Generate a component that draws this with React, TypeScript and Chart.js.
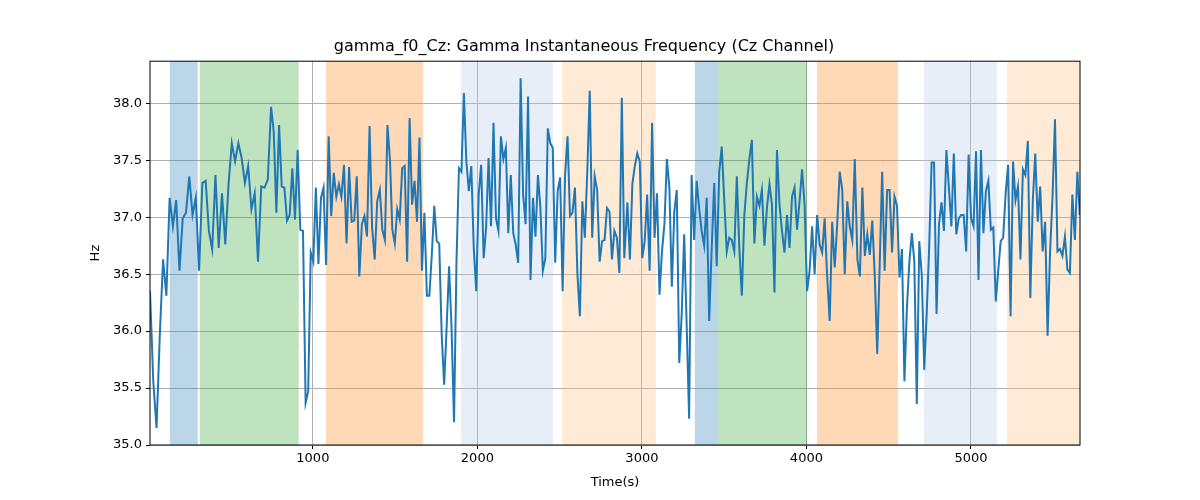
import React, { useEffect, useRef } from 'react';
import { Chart, registerables } from 'chart.js';

Chart.register(...registerables);

const anchorIdx = [0, 37, 50, 83, 84, 109, 136, 178, 179, 204, 270, 271, 295, 351, 361];
const anchorTime = [10, 746, 956, 1469, 1483, 1858, 2263, 2893, 2912, 3287, 4294, 4310, 4671, 5511, 5662];

const hzValues = [
  36.35, 35.56, 35.15, 35.97, 36.63, 36.31, 37.17, 36.92, 37.15, 36.53, 36.99, 37.04, 37.36, 37.02, 37.17, 36.53,
  37.3, 37.32, 36.88, 36.72, 37.37, 36.73, 37.21, 36.76, 37.29, 37.65, 37.49, 37.65, 37.52, 37.3, 37.45, 37.07,
  37.21, 36.61, 37.27, 37.26, 37.33, 37.97, 37.75, 37.04, 37.81, 37.27, 37.26, 36.97, 37.02, 37.43, 36.98, 37.59,
  36.89, 36.88, 35.37, 35.47, 36.69, 36.61, 37.26, 36.59, 37.17, 37.26, 36.58, 37.71, 37.01, 37.39, 37.18, 37.29,
  37.18, 37.46, 36.77, 37.44, 36.96, 36.97, 37.36, 36.48, 36.94, 37.01, 36.83, 37.8, 36.91, 36.63, 37.14, 37.24,
  36.89, 36.8, 37.81, 37.49,
  36.89, 36.77, 37.07, 36.98, 37.43, 37.45, 36.61, 37.87, 37.11, 37.32, 36.96, 37.7, 36.53, 37.04, 36.31, 36.31,
  36.67, 37.1, 36.79, 36.77, 35.97, 35.53, 36.03, 36.57, 36.03, 35.2, 36.61, 37.43, 37.4, 38.09, 37.49, 37.23,
  37.45, 36.73, 36.35, 37.2, 37.46, 36.64, 36.91, 37.52, 36.92, 37.83, 36.99, 36.88, 37.71, 37.51, 37.61, 36.86,
  37.37, 36.86, 36.76, 36.6, 38.22, 37.2, 36.94, 38.06, 36.45, 37.17, 36.83, 37.37, 37.08, 36.53, 36.64, 37.78,
  37.65, 37.61, 36.6, 37.23, 37.35, 36.35, 37.37, 37.71, 37.01, 37.04, 37.26, 36.5, 36.13, 37.14, 36.82, 37.4,
  38.11, 36.82, 37.36, 37.24, 36.61, 36.79, 36.8, 37.08, 37.05, 36.63, 36.88, 36.82, 36.51, 38.05, 36.64,
  37.13, 36.63, 37.29, 37.45, 37.56, 37.49, 36.64, 36.79, 37.2, 36.53, 37.83, 36.82, 37.21, 36.32, 36.7, 36.94,
  37.51, 37.26, 36.39, 37.05, 37.24, 35.72, 36.15, 36.85, 36.06, 35.23, 37.37, 36.8, 37.32, 37.08, 36.88, 36.75,
  37.17, 36.09, 36.73, 37.3, 36.57, 37.4, 37.62, 37.15, 36.7, 36.82, 36.8, 36.7, 37.36, 36.73, 36.31, 37.02,
  37.3, 37.51, 37.68, 36.77, 37.18, 37.1, 37.24, 36.75, 37.08, 37.29, 37.11, 36.34, 37.59, 37.11, 36.88, 36.69,
  37.02, 36.73, 37.18, 37.26, 36.89, 37.14, 37.42, 37.11, 36.35, 36.53, 36.92, 36.5, 37.02, 36.76, 36.69, 36.99,
  36.48, 36.09, 36.96, 36.56, 36.94, 37.4, 37.24, 36.5, 37.14, 36.92, 36.8, 37.51,
  36.63, 36.48, 37.26, 36.66, 36.85, 36.67, 36.97, 36.5, 35.8, 36.58, 37.4, 36.53, 37.24, 37.24, 36.69, 37.18,
  37.1, 36.47, 36.72, 35.56, 36.2, 36.61, 36.86, 36.61, 35.36, 36.79, 36.5, 35.66, 36.15, 36.73, 37.48, 37.48,
  36.15, 36.94, 37.13, 36.88, 37.59, 37.26, 36.92, 37.56, 36.85, 36.99, 37.02, 37.02, 36.7, 37.55, 36.99, 36.92,
  37.58, 36.45, 37.59, 36.86, 37.23, 37.32, 36.89, 36.91, 36.26, 36.53, 36.79, 36.82, 37.21, 37.46, 36.13, 37.49,
  37.15, 37.27, 36.63, 37.42, 37.37, 37.67, 36.29, 37.14, 37.56, 36.96, 37.27, 36.7, 36.96, 35.96, 36.69, 37.18,
  37.86, 36.7, 36.72, 36.66, 36.83, 36.54, 36.51, 37.2, 36.8, 37.4, 37.02,
];

// [start, end, colour]
const bands: [number, number, string][] = [
  [130, 300, 'rgba(31,119,180,0.3)'],
  [312, 914, 'rgba(44,160,44,0.3)'],
  [1080, 1670, 'rgba(255,127,14,0.3)'],
  [1900, 2460, 'rgba(174,199,232,0.3)'],
  [2515, 3085, 'rgba(255,187,120,0.3)'],
  [3322, 3462, 'rgba(31,119,180,0.3)'],
  [3462, 4003, 'rgba(44,160,44,0.3)'],
  [4064, 4556, 'rgba(255,127,14,0.3)'],
  [4714, 5158, 'rgba(174,199,232,0.3)'],
  [5219, 5663, 'rgba(255,187,120,0.3)'],
];

const xTicks = [1000, 2000, 3000, 4000, 5000];
const yTicks = [35, 35.5, 36, 36.5, 37, 37.5, 38];
const X_MIN = 10;
const X_MAX = 5663;

const timeAt = (i: number) => {
  let k = 0;
  while (k < anchorIdx.length - 2 && i > anchorIdx[k + 1]) k++;
  const i0 = anchorIdx[k], i1 = anchorIdx[k + 1];
  return anchorTime[k] + ((i - i0) / (i1 - i0)) * (anchorTime[k + 1] - anchorTime[k]);
};

const bandPlugin = {
  id: 'bands',
  beforeDatasetsDraw(chart: any) {
    const { ctx, chartArea, scales } = chart;
    ctx.save();
    bands.forEach(([a, b, c]) => {
      const x1 = scales.x.getPixelForValue(a);
      const x2 = scales.x.getPixelForValue(b);
      ctx.fillStyle = c;
      ctx.fillRect(x1, chartArea.top, x2 - x1, chartArea.bottom - chartArea.top);
    });
    ctx.restore();
  },
  afterDraw(chart: any) {
    const { ctx, chartArea } = chart;
    ctx.save();
    ctx.strokeStyle = '#000';
    ctx.lineWidth = 1;
    ctx.strokeRect(chartArea.left, chartArea.top, chartArea.right - chartArea.left, chartArea.bottom - chartArea.top);
    ctx.restore();
  },
};

const App = () => {
  const canvasRef = useRef<HTMLCanvasElement>(null);

  useEffect(() => {
    if (!canvasRef.current) return;
    const font = { family: 'DejaVu Sans', size: 13 };
    const chart = new Chart(canvasRef.current, {
      type: 'line',
      data: {
        datasets: [
          {
            data: hzValues.map((v, i) => ({ x: timeAt(i), y: v })),
            borderColor: '#1f77b4',
            borderWidth: 2,
            pointRadius: 0,
            tension: 0,
          },
        ],
      },
      plugins: [bandPlugin],
      options: {
        animation: false,
        responsive: false,
        layout: { padding: { left: 88, right: 120, top: 0, bottom: 10 } },
        plugins: {
          legend: { display: false },
          tooltip: { enabled: false },
          title: {
            display: true,
            text: 'gamma_f0_Cz: Gamma Instantaneous Frequency (Cz Channel)',
            color: '#000',
            font: { family: 'DejaVu Sans', size: 16, weight: 'normal' },
            padding: { top: 37, bottom: 5 },
          },
        },
        scales: {
          x: {
            type: 'linear',
            min: X_MIN,
            max: X_MAX,
            afterBuildTicks: (axis: any) => {
              axis.ticks = xTicks.map((v) => ({ value: v }));
            },
            afterFit: (axis: any) => {
              axis.height = 45;
            },
            grid: { color: '#b0b0b0', drawTicks: true, tickLength: 4, tickColor: '#000' },
            border: { display: false },
            ticks: { color: '#000', font, maxRotation: 0, padding: 2, callback: (v: any) => String(v) },
            title: { display: true, text: 'Time(s)', color: '#000', font, padding: 0 },
          },
          y: {
            min: 35,
            max: 38.37,
            afterBuildTicks: (axis: any) => {
              axis.ticks = yTicks.map((v) => ({ value: v }));
            },
            afterFit: (axis: any) => {
              axis.width = 62;
            },
            grid: { color: '#b0b0b0', tickLength: 4, tickColor: '#000' },
            border: { display: false },
            ticks: { color: '#000', font, padding: 4, callback: (v: any) => Number(v).toFixed(1) },
            title: { display: true, text: 'Hz', color: '#000', font, padding: 0 },
          },
        },
      },
    });
    return () => chart.destroy();
  }, []);

  return (
    <div style={{ position: 'absolute', left: 0, top: 0 }}>
      <canvas ref={canvasRef} width={1200} height={500} />
    </div>
  );
};

export default App;
